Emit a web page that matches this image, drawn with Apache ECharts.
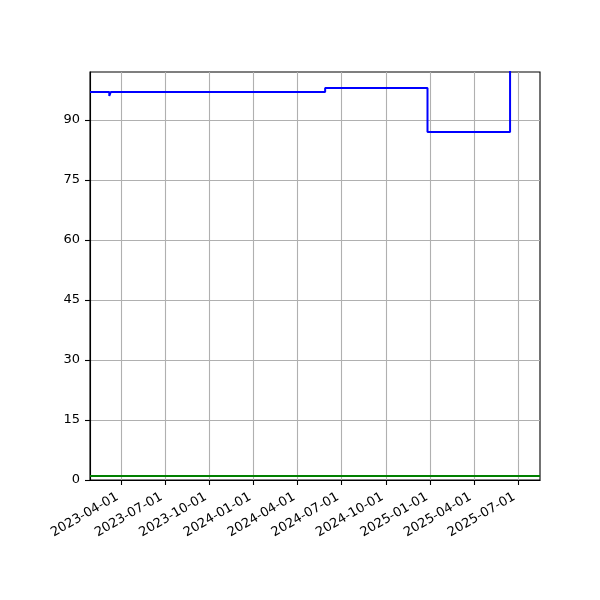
<!DOCTYPE html>
<html><head><meta charset="utf-8">
<script src="https://cdn.jsdelivr.net/npm/echarts@6/dist/echarts.min.js"></script>
<style>html,body{margin:0;padding:0;background:#fff}#c{width:600px;height:600px}</style>
</head><body><div id="c"></div>
<script>
var blueDates = ['2023-01-27','2023-03-08','2023-03-11','2024-05-28','2024-12-26','2025-06-15'];
var blueValues = [97, 96, 97, 98, 87, 130];
var greenDates = ['2023-01-27','2025-08-16'];
var greenValues = [1, 1];
var xTicks = ['2023-04-01','2023-07-01','2023-10-01','2024-01-01','2024-04-01','2024-07-01','2024-10-01','2025-01-01','2025-04-01','2025-07-01'];
var yTicks = [0, 15, 30, 45, 60, 75, 90];
var xMin = '2023-01-27', xMax = '2025-08-16';
var yMin = 0, yMax = 102;

function ts(s) { var p = s.split('-'); return Date.UTC(+p[0], +p[1] - 1, +p[2]); }
function pad(n) { return (n < 10 ? '0' : '') + n; }
function fmt(v) { var d = new Date(v); return d.getUTCFullYear() + '-' + pad(d.getUTCMonth() + 1) + '-' + pad(d.getUTCDate()); }
function zip(a, b) { return a.map(function (d, i) { return [ts(d), b[i]]; }); }

var chart = echarts.init(document.getElementById('c'), null, {renderer: 'canvas'});
var font = 'DejaVu Sans';
var xTickNums = xTicks.map(ts);
chart.setOption({
  animation: false,
  grid: {left: 90, top: 72, right: 60, bottom: 120, show: true, borderColor: '#000', borderWidth: 1.1, backgroundColor: 'transparent'},
  xAxis: {
    type: 'value', min: ts(xMin), max: ts(xMax), scale: true,
    axisLine: {show: true, lineStyle: {color: '#000', width: 1.1}},
    axisTick: {show: true, length: 5, lineStyle: {color: '#000', width: 1.1}, customValues: xTickNums},
    axisLabel: {show: true, customValues: xTickNums, rotate: 30, color: '#000', fontFamily: font, fontSize: 13, margin: 14,
      padding: [0, 4, 0, 0],
      formatter: function (v) { return fmt(v); }},
    splitLine: {show: true, lineStyle: {color: '#b0b0b0', width: 1.1}}
  },
  yAxis: {
    type: 'value', min: yMin, max: yMax,
    axisLine: {show: true, lineStyle: {color: '#000', width: 1.1}},
    axisTick: {show: true, length: 5, lineStyle: {color: '#000', width: 1.1}, customValues: yTicks},
    axisLabel: {show: true, customValues: yTicks, color: '#000', fontFamily: font, fontSize: 13, margin: 10},
    splitLine: {show: true, lineStyle: {color: '#b0b0b0', width: 1.1}}
  },
  series: [
    {type: 'line', data: zip(blueDates, blueValues), step: 'end', showSymbol: false, symbol: 'none', clip: true,
      lineStyle: {color: '#0000ff', width: 2}, itemStyle: {color: '#0000ff'}},
    {type: 'line', data: zip(greenDates, greenValues), showSymbol: false, symbol: 'none', clip: true,
      lineStyle: {color: '#008000', width: 2}, itemStyle: {color: '#008000'}}
  ]
});
</script></body></html>
